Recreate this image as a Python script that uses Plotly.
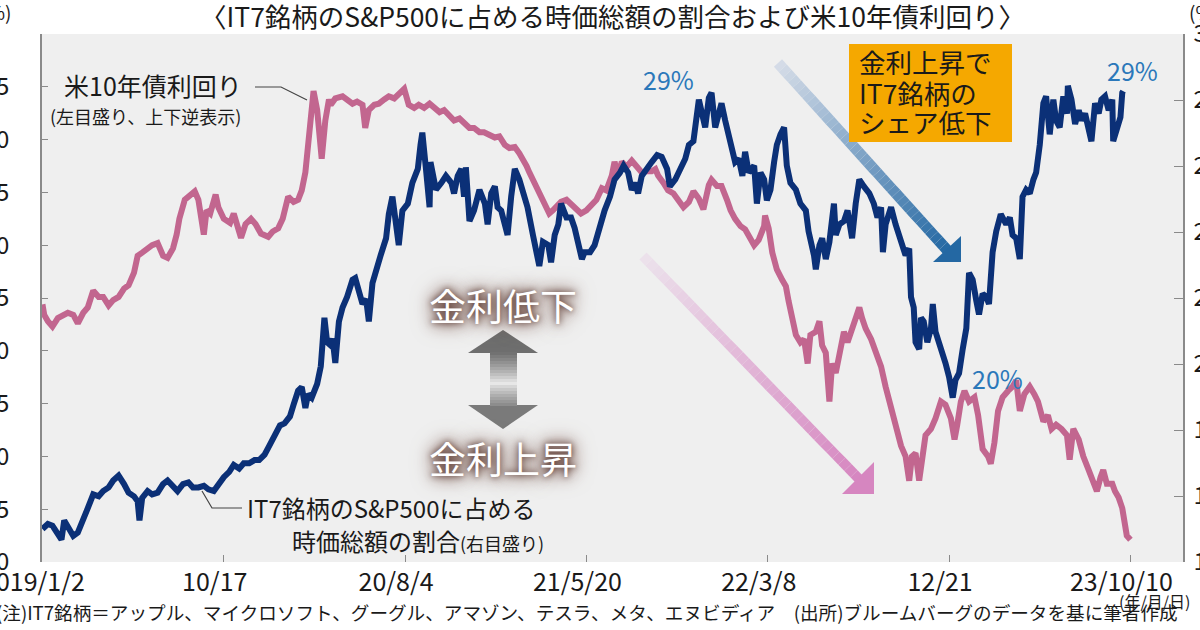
import plotly.graph_objects as go

# ---------------- data ----------------
# x = trading-day number counted from 2019/1/2
yield_day = [
    0, 2, 6, 11, 17, 22, 28, 34, 39, 45,
    50, 56, 62, 67, 73, 78, 84, 90, 95, 101,
    105, 110, 116, 121, 127, 133, 138, 144, 148, 151,
    157, 163, 168, 172, 176, 178, 181, 185, 191, 194,
    200, 207, 211, 215, 219, 224, 230, 235, 241, 249,
    254, 260, 265, 271, 277, 282, 286, 290, 293, 297,
    299, 303, 306, 308, 312, 316, 318, 323, 331, 336,
    342, 347, 353, 356, 360, 366, 371, 377, 382, 388,
    393, 399, 404, 410, 415, 421, 427, 432, 438, 443,
    449, 454, 460, 465, 471, 476, 482, 487, 493, 499,
    504, 510, 515, 521, 526, 530, 534, 537, 541, 545,
    548, 552, 556, 559, 563, 567, 572, 578, 583, 589,
    594, 600, 606, 611, 617, 622, 628, 631, 635, 639,
    644, 650, 655, 661, 666, 672, 676, 679, 685, 690,
    696, 702, 707, 713, 718, 724, 729, 735, 738, 744,
    749, 755, 759, 764, 770, 775, 781, 785, 790, 796,
    797, 801, 805, 810, 816, 820, 823, 827, 831, 836,
    840, 844, 847, 853, 857, 860, 864, 868, 871, 875,
    880, 884, 888, 893, 897, 901, 904, 908, 914, 919,
    925, 930, 936, 941, 947, 952, 956, 959, 963, 967,
    970, 974, 980, 985, 991, 996, 1002, 1006, 1009, 1013,
    1017, 1022, 1028, 1032, 1037, 1043, 1046, 1050, 1054, 1059,
    1065, 1070, 1074, 1078, 1083, 1089, 1094, 1098, 1104, 1109,
    1113, 1118, 1124, 1130, 1133, 1137, 1143, 1148, 1154, 1159,
    1163, 1167, 1170, 1174, 1180, 1183, 1187, 1191, 1194, 1196,
    1200,
]
yield_pct = [
    2.56, 2.66, 2.72, 2.77, 2.69, 2.66, 2.64, 2.66, 2.74, 2.64,
    2.59, 2.43, 2.49, 2.49, 2.57, 2.52, 2.49, 2.41, 2.38, 2.26,
    2.10, 2.07, 2.03, 2.00, 1.98, 2.10, 2.12, 2.03, 1.90, 1.75,
    1.57, 1.52, 1.49, 1.57, 1.84, 1.90, 1.67, 1.70, 1.52, 1.64,
    1.75, 1.79, 1.70, 1.84, 1.93, 1.80, 1.75, 1.80, 1.89, 1.92,
    1.87, 1.84, 1.75, 1.54, 1.59, 1.57, 1.48, 1.31, 1.02, 0.79,
    0.54, 0.72, 0.95, 1.18, 0.82, 0.62, 0.67, 0.61, 0.59, 0.62,
    0.66, 0.64, 0.67, 0.89, 0.72, 0.67, 0.66, 0.62, 0.59, 0.61,
    0.57, 0.52, 0.67, 0.70, 0.67, 0.70, 0.66, 0.70, 0.74, 0.72,
    0.77, 0.82, 0.80, 0.85, 0.89, 0.89, 0.93, 0.93, 0.95, 0.98,
    0.97, 1.05, 1.08, 1.07, 1.13, 1.18, 1.25, 1.31, 1.38, 1.44,
    1.51, 1.57, 1.64, 1.70, 1.67, 1.64, 1.59, 1.57, 1.61, 1.67,
    1.70, 1.67, 1.61, 1.57, 1.46, 1.48, 1.34, 1.21, 1.34, 1.21,
    1.26, 1.20, 1.25, 1.31, 1.30, 1.30, 1.28, 1.34, 1.41, 1.48,
    1.51, 1.57, 1.64, 1.59, 1.49, 1.56, 1.66, 1.43, 1.38, 1.44,
    1.44, 1.57, 1.67, 1.75, 1.82, 1.85, 1.93, 2.00, 1.95, 1.82,
    1.72, 1.84, 2.07, 2.23, 2.33, 2.39, 2.53, 2.72, 2.85, 2.92,
    2.89, 3.12, 2.85, 2.82, 2.72, 2.95, 3.02, 3.48, 3.12, 3.21,
    2.98, 2.82, 2.92, 2.79, 2.72, 2.59, 2.69, 2.79, 2.89, 3.02,
    3.15, 3.34, 3.54, 3.71, 3.90, 4.00, 4.23, 4.00, 3.97, 4.23,
    4.00, 3.80, 3.74, 3.64, 3.48, 3.51, 3.64, 3.84, 3.70, 3.48,
    3.38, 3.48, 3.44, 3.61, 3.93, 4.00, 4.07, 3.87, 3.57, 3.44,
    3.38, 3.34, 3.28, 3.57, 3.41, 3.34, 3.41, 3.48, 3.67, 3.61,
    3.74, 3.70, 3.74, 3.80, 4.03, 3.74, 3.84, 4.00, 4.13, 4.26,
    4.33, 4.20, 4.13, 4.26, 4.26, 4.33, 4.39, 4.49, 4.62, 4.75,
    4.79,
]

share_day = [
    0, 6, 11, 15, 21, 24, 28, 34, 39, 45,
    50, 56, 62, 67, 73, 78, 84, 90, 95, 101,
    105, 107, 110, 116, 121, 127, 133, 138, 144, 149,
    155, 161, 166, 172, 178, 183, 189, 194, 200, 206,
    211, 217, 222, 228, 234, 239, 245, 250, 256, 262,
    267, 273, 277, 282, 286, 290, 293, 297, 303, 307,
    309, 311, 314, 318, 320, 323, 327, 331, 336, 342,
    345, 349, 353, 357, 360, 364, 368, 373, 379, 382,
    386, 390, 393, 397, 403, 408, 414, 417, 419, 423,
    427, 428, 434, 440, 445, 451, 454, 458, 462, 465,
    467, 471, 476, 482, 488, 491, 495, 499, 502, 506,
    510, 513, 517, 521, 526, 530, 535, 541, 545, 548,
    552, 558, 561, 565, 569, 572, 578, 583, 587, 591,
    595, 598, 604, 609, 615, 620, 626, 631, 637, 641,
    646, 650, 654, 657, 661, 666, 672, 678, 683, 689,
    692, 698, 703, 709, 713, 718, 724, 727, 731, 735,
    738, 742, 746, 749, 753, 757, 761, 764, 768, 772,
    775, 779, 785, 788, 792, 796, 799, 803, 807, 810,
    814, 818, 821, 825, 831, 836, 842, 845, 851, 853,
    857, 860, 864, 868, 873, 875, 879, 884, 888, 893,
    897, 901, 906, 912, 917, 921, 925, 927, 930, 936,
    941, 947, 952, 956, 958, 961, 963, 967, 969, 972,
    976, 980, 982, 985, 989, 993, 996, 1000, 1004, 1007,
    1011, 1015, 1019, 1022, 1026, 1030, 1033, 1037, 1041, 1044,
    1048, 1052, 1057, 1063, 1067, 1070, 1074, 1078, 1081, 1085,
    1089, 1093, 1096, 1100, 1104, 1107, 1111, 1115, 1118, 1122,
    1126, 1130, 1131, 1135, 1139, 1143, 1146, 1150, 1154, 1157,
    1161, 1165, 1168, 1172, 1176, 1180, 1181, 1185, 1189, 1191,
    1192,
]
share_pct = [
    16.00, 16.15, 16.10, 15.94, 15.68, 16.26, 16.10, 15.79, 15.89, 16.36,
    16.63, 17.05, 16.99, 17.15, 17.26, 17.47, 17.62, 17.36, 17.10, 16.99,
    16.84, 16.26, 16.94, 17.15, 17.05, 17.10, 17.36, 17.47, 17.31, 17.15,
    17.36, 17.41, 17.26, 17.26, 17.31, 17.20, 17.15, 17.36, 17.57, 17.73,
    17.94, 17.83, 17.99, 17.99, 18.09, 18.09, 18.25, 18.51, 18.88, 19.14,
    19.20, 19.41, 19.77, 20.19, 20.30, 19.67, 20.09, 19.98, 20.40, 20.93,
    21.66, 22.40, 21.66, 21.56, 21.77, 21.03, 22.29, 22.71, 23.03, 23.55,
    23.60, 23.13, 22.82, 22.97, 22.29, 23.45, 23.87, 24.29, 24.81, 25.54,
    26.07, 25.02, 24.60, 25.65, 25.86, 26.49, 26.91, 27.64, 28.01, 26.91,
    25.75, 27.12, 26.28, 26.49, 26.70, 26.49, 26.17, 26.70, 26.91, 26.07,
    26.96, 25.33, 25.65, 26.28, 25.86, 25.23, 26.17, 26.38, 25.75, 25.65,
    25.23, 24.91, 26.07, 26.91, 26.59, 26.17, 25.75, 24.91, 24.39, 23.97,
    24.70, 24.60, 24.08, 24.91, 25.23, 25.86, 25.44, 25.44, 25.12, 24.60,
    24.18, 24.39, 24.39, 24.60, 25.23, 25.65, 26.07, 26.59, 26.80, 27.01,
    26.80, 26.28, 26.49, 26.17, 26.70, 26.91, 27.12, 27.33, 27.28, 26.91,
    26.38, 26.59, 26.91, 27.22, 27.64, 27.75, 29.01, 28.69, 28.17, 29.06,
    29.22, 28.17, 28.69, 28.90, 28.38, 27.96, 27.43, 27.12, 27.22, 26.70,
    27.43, 26.80, 27.01, 25.86, 26.80, 26.59, 25.96, 26.28, 27.12, 27.64,
    27.96, 28.17, 27.01, 26.49, 26.28, 25.86, 25.65, 25.02, 24.29, 23.87,
    24.60, 24.81, 24.18, 24.70, 25.86, 24.91, 25.23, 25.33, 25.65, 24.81,
    25.86, 26.59, 26.38, 26.17, 25.86, 25.44, 25.75, 24.39, 25.23, 25.75,
    25.23, 24.70, 24.29, 24.50, 23.03, 22.71, 21.66, 21.45, 22.40, 22.29,
    21.66, 22.08, 22.82, 21.98, 21.66, 21.35, 21.03, 20.61, 19.98, 20.51,
    20.72, 21.45, 22.08, 23.76, 23.55, 22.92, 22.50, 23.13, 23.03, 22.82,
    24.39, 25.02, 25.54, 25.23, 25.44, 24.91, 24.81, 24.18, 26.07, 26.28,
    26.17, 26.59, 26.80, 27.64, 28.90, 29.11, 27.96, 29.01, 28.38, 28.17,
    29.11, 28.59, 29.43, 29.01, 28.27, 28.69, 28.38, 28.59, 27.96, 27.75,
    28.90, 28.59, 29.01, 29.11, 28.69, 29.01, 27.75, 28.17, 28.48, 29.22,
    29.27,
]

x_tick_days = [0, 200, 400, 600, 800, 1000, 1200]
x_tick_labels = ["2019/1/2", "10/17", "20/8/4", "21/5/20", "22/3/8", "12/21", "23/10/10"]
yield_ticks = [0.0, 0.5, 1.0, 1.5, 2.0, 2.5, 3.0, 3.5, 4.0, 4.5, 5.0]
yield_tick_labels = ["", "0.5", "1.0", "1.5", "2.0", "2.5", "3.0", "3.5", "4.0", "4.5", "5.0"]
share_ticks = [15, 17, 19, 21, 23, 25, 27, 29, 31]
share_tick_labels = ["15", "17", "19", "21", "23", "25", "27", "29", "31"]

assert len(yield_day) == len(yield_pct)
assert len(share_day) == len(share_pct)

# ---------------- styling ----------------
FONT = "Noto Sans CJK JP"
PINK = "#c2668f"
NAVY = "#0b3077"
AXIS = "#8a8a8a"
BG = "#efefef"
NOTE_BLUE = "#2b78ba"

# plot box in page pixels
PL, PR, PT, PB = 42, 1183, 34, 562


def fx(x):
    return (x - PL) / (PR - PL)


def fy(y):
    return (PB - y) / (PB - PT)


def mix(c0, c1, t):
    return "rgb(%d,%d,%d)" % tuple(round(a + (b - a) * t) for a, b in zip(c0, c1))


shapes = []


def gradient_arrow(x0, y0, x1, y1, head, c0, c1, width, n=36):
    for i in range(n):
        ta, tb = i / n, (i + 1) / n
        shapes.append(dict(
            type="line", xref="paper", yref="paper",
            x0=fx(x0 + (x1 - x0) * ta), y0=fy(y0 + (y1 - y0) * ta),
            x1=fx(x0 + (x1 - x0) * tb), y1=fy(y0 + (y1 - y0) * tb),
            line=dict(color=mix(c0, c1, (ta + tb) / 2), width=width),
        ))
    path = "M %f,%f L %f,%f L %f,%f Z" % (
        fx(head[0][0]), fy(head[0][1]), fx(head[1][0]), fy(head[1][1]),
        fx(head[2][0]), fy(head[2][1]))
    shapes.append(dict(type="path", xref="paper", yref="paper", path=path,
                       fillcolor=mix(c0, c1, 1.0), line=dict(width=0)))


# pink arrow
gradient_arrow(643, 256, 860, 480, [(842, 494), (874, 494), (874, 462)],
               (236, 226, 236), (214, 134, 192), 10)
# blue arrow
gradient_arrow(778, 63, 948, 251, [(933, 262), (961, 262), (961, 236)],
               (214, 221, 232), (36, 104, 163), 11)

# grey double-headed arrow
ax_c, sh_l, sh_r = 503, 490, 517
shapes.append(dict(type="path", xref="paper", yref="paper",
                   path="M %f,%f L %f,%f L %f,%f Z" % (fx(468), fy(353), fx(538), fy(353), fx(ax_c), fy(330)),
                   fillcolor="#6e6e6e", line=dict(width=0)))
shapes.append(dict(type="path", xref="paper", yref="paper",
                   path="M %f,%f L %f,%f L %f,%f Z" % (fx(468), fy(405), fx(538), fy(405), fx(ax_c), fy(429)),
                   fillcolor="#7a7a7a", line=dict(width=0)))
for ya in range(352, 406, 3):
    d = min(abs(ya + 1.5 - 383) / 30.0, 1.0)
    col = mix((236, 236, 236), (112, 112, 112), d ** 0.8)
    shapes.append(dict(type="rect", xref="paper", yref="paper",
                       x0=fx(sh_l), x1=fx(sh_r), y0=fy(ya), y1=fy(min(ya + 3.4, 406)),
                       fillcolor=col, line=dict(width=0)))

# orange box
shapes.append(dict(type="rect", xref="paper", yref="paper",
                   x0=fx(849), x1=fx(1012), y0=fy(44), y1=fy(142),
                   fillcolor="#f5a800", line=dict(width=0)))

# leader lines
shapes.append(dict(type="path", xref="paper", yref="paper",
                   path="M %f,%f L %f,%f L %f,%f" % (fx(255), fy(87), fx(281), fy(87), fx(307), fy(100)),
                   line=dict(color="#444", width=1.2)))
shapes.append(dict(type="path", xref="paper", yref="paper",
                   path="M %f,%f L %f,%f L %f,%f" % (fx(242), fy(508), fx(212), fy(508), fx(202), fy(491)),
                   line=dict(color="#444", width=1.2)))


def note(text, x, y, size, xanchor="left", color="#1a1a1a", **kw):
    return dict(text=text, x=fx(x), y=fy(y), xref="paper", yref="paper",
                xanchor=xanchor, yanchor="middle", showarrow=False,
                font=dict(family=FONT, size=size, color=color, **kw))


GLOW = "0px 0px 6px rgb(85,52,44), 0px 0px 14px rgb(100,64,54), 0px 0px 22px rgb(125,88,78)"

annotations = [
    note("〈IT7銘柄のS&P500に占める時価総額の割合および米10年債利回り〉", 612, 15, 26.5, "center"),
    note("(%)", 13, 11, 19, "right"),
    note("(%)", 1187, 11, 19, "left"),
    note("米10年債利回り", 62, 85, 25),
    note("(左目盛り、上下逆表示)", 48, 116, 18),
    note("IT7銘柄のS&P500に占める", 245, 507, 24),
    note("時価総額の割合<span style='font-size:18px'>(右目盛り)</span>", 290, 540, 24),
    note("金利低下", 503, 305, 37, "center", color="white", shadow=GLOW),
    note("金利上昇", 503, 458, 37, "center", color="white", shadow=GLOW),
    note("金利上昇で", 857, 62, 26.5),
    note("IT7銘柄の", 857, 92, 26.5),
    note("シェア低下", 857, 122, 26.5),
    note("29%", 668, 79, 25, "center", color=NOTE_BLUE),
    note("29%", 1132, 70, 25, "center", color=NOTE_BLUE),
    note("20%", 997, 378, 25, "center", color=NOTE_BLUE),
    note("(注)IT7銘柄＝アップル、マイクロソフト、グーグル、アマゾン、テスラ、メタ、エヌビディア　(出所)ブルームバーグのデータを基に筆者作成",
         -6, 611, 18.6),
    note("(年/月/日)", 1192, 601, 16, "right"),
]

fig = go.Figure()
fig.add_trace(go.Scatter(x=yield_day, y=yield_pct, yaxis="y", mode="lines",
                         line=dict(color=PINK, width=6), hoverinfo="skip"))
fig.add_trace(go.Scatter(x=share_day, y=share_pct, yaxis="y2", mode="lines",
                         line=dict(color=NAVY, width=6), hoverinfo="skip"))

fig.update_layout(
    template="none",
    width=1200, height=630,
    margin=dict(l=PL, r=1200 - PR, t=PT, b=630 - PB, pad=0),
    paper_bgcolor="white", plot_bgcolor=BG, showlegend=False,
    font=dict(family=FONT, color="#1a1a1a"),
    xaxis=dict(range=[-0.5, 1258], tickmode="array", tickvals=x_tick_days, ticktext=x_tick_labels,
               ticks="inside", ticklen=7, tickwidth=1.3, tickcolor=AXIS,
               showgrid=False, zeroline=False, showline=False, automargin=False,
               tickfont=dict(family=FONT, size=25, color="#1a1a1a"),
               ticklabelshift=-9, ticklabelstandoff=3, ticklabeloverflow="allow"),
    yaxis=dict(range=[5, 0], tickmode="array", tickvals=yield_ticks, ticktext=yield_tick_labels,
               side="left", ticks="inside", ticklen=6, tickwidth=1.3, tickcolor=AXIS,
               showline=True, linecolor=AXIS, linewidth=1.5, showgrid=False, zeroline=False,
               automargin=False, tickfont=dict(family=FONT, size=24, color="#1a1a1a"),
               ticklabelstandoff=26, ticklabeloverflow="allow"),
    yaxis2=dict(range=[15, 31], tickmode="array", tickvals=share_ticks, ticktext=share_tick_labels,
                overlaying="y", side="right", ticks="inside", ticklen=9, tickwidth=1.3, tickcolor=AXIS,
                showline=True, linecolor=AXIS, linewidth=1.5, showgrid=False, zeroline=False,
                automargin=False, tickfont=dict(family=FONT, size=24, color="#1a1a1a"),
                ticklabelstandoff=4, ticklabeloverflow="allow"),
    shapes=shapes,
    annotations=annotations,
)

fig.write_html("out.html")
